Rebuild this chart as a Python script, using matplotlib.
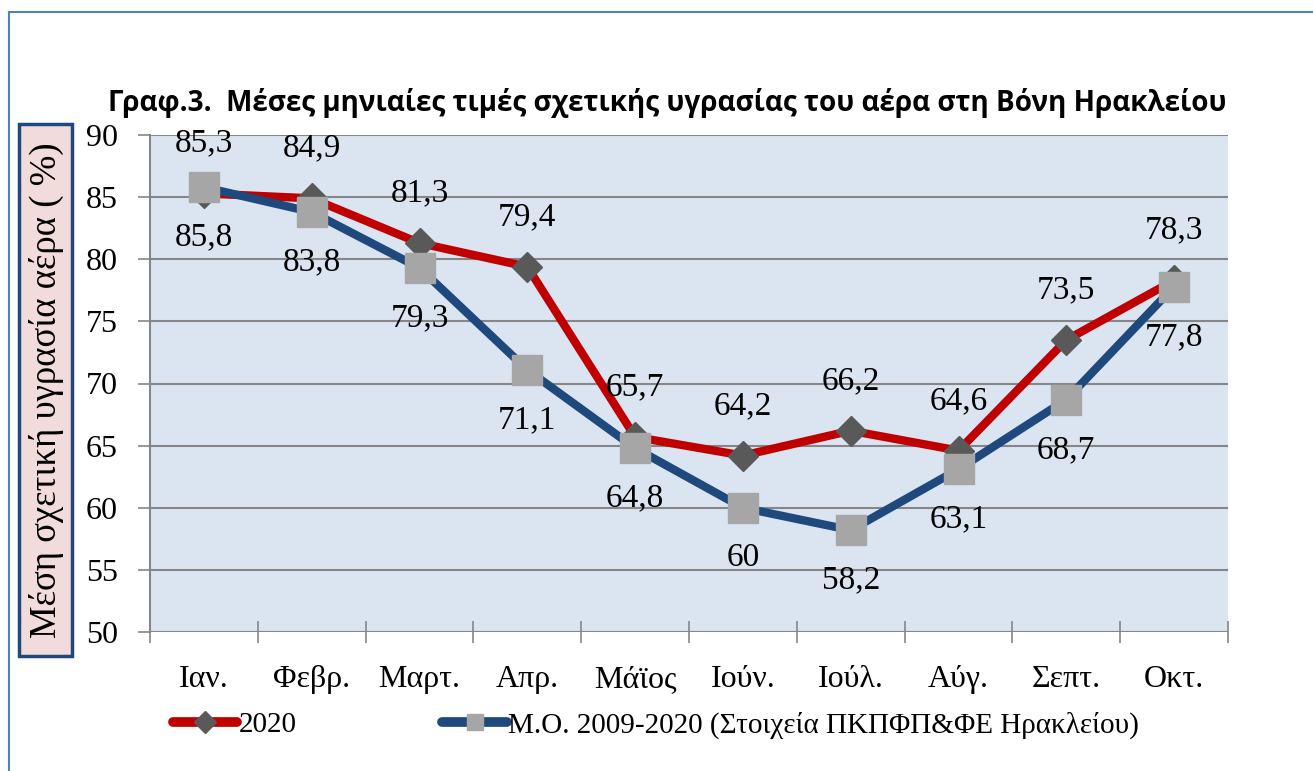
import matplotlib
matplotlib.use("Agg")
import matplotlib.pyplot as plt
from matplotlib.patches import Rectangle
from matplotlib.lines import Line2D

months = ["Ιαν.", "Φεβρ.", "Μαρτ.", "Απρ.", "Μάϊος", "Ιούν.", "Ιούλ.", "Αύγ.", "Σεπτ.", "Οκτ."]
hum_2020 = [85.3, 84.9, 81.3, 79.4, 65.7, 64.2, 66.2, 64.6, 73.5, 78.3]
hum_mean = [85.8, 83.8, 79.3, 71.1, 64.8, 60.0, 58.2, 63.1, 68.7, 77.8]
yticks = [50, 55, 60, 65, 70, 75, 80, 85, 90]
label_2020 = "2020"
label_mean = "Μ.Ο. 2009-2020 (Στοιχεία ΠΚΠΦΠ&ΦΕ Ηρακλείου)"
title = "Γραφ.3.  Μέσες μηνιαίες τιμές σχετικής υγρασίας του αέρα στη Βόνη Ηρακλείου"
ylabel = "Μέση σχετική υγρασία αέρα ( %)"

W, H = 1313, 771
fig = plt.figure(figsize=(W / 100, H / 100), dpi=100)
serif = ["Liberation Serif", "DejaVu Serif"]

def fx(px):
    return px / W

def fy(py):
    return 1 - py / H

ax = fig.add_axes([fx(150), fy(632), fx(1228) - fx(150), fy(135) - fy(632)])
ax.set_facecolor("#dbe5f1")
x = list(range(len(months)))

ax.plot(x, hum_2020, color="#c00000", lw=6, marker="D", ms=15,
        mfc="#595959", mec="#595959", zorder=3, label=label_2020,
        solid_joinstyle="round")
ax.plot(x, hum_mean, color="#1f497d", lw=6, marker="s", ms=21,
        mfc="#a6a6a6", mec="#a6a6a6", zorder=4, label=label_mean,
        solid_joinstyle="round")

def fmt(v):
    s = ("%.1f" % v).replace(".", ",")
    if s.endswith(",0"):
        s = s[:-2]
    return s

for xi, v in zip(x, hum_2020):
    ax.annotate(fmt(v), (xi, v), xytext=(0, 36), textcoords="offset points",
                ha="center", va="center", fontsize=24, family=serif, zorder=6,
                annotation_clip=False)
for xi, v in zip(x, hum_mean):
    ax.annotate(fmt(v), (xi, v), xytext=(0, -36), textcoords="offset points",
                ha="center", va="center", fontsize=24, family=serif, zorder=6,
                annotation_clip=False)

ax.set_xlim(-0.5, len(months) - 0.5)
ax.set_ylim(50, 90)
ax.set_yticks(yticks)
ax.set_yticklabels([str(t) for t in yticks], fontsize=23, family=serif)
ax.yaxis.grid(True, color="#868686", lw=1.5)
ax.set_axisbelow(True)
ax.tick_params(axis="y", direction="out", length=9, width=1.2, color="#868686", pad=14)

ax.set_xticks([i + 0.5 for i in range(-1, len(months))], minor=False)
ax.set_xticklabels([])
ax.set_xticks(x, minor=True)
ax.set_xticklabels(months, minor=True, fontsize=23, family=serif)
ax.tick_params(axis="x", which="major", direction="inout", length=16, width=1.2, color="#868686")
ax.tick_params(axis="x", which="minor", length=0, pad=24)

for s in ["top", "right", "bottom"]:
    ax.spines[s].set_visible(False)
ax.spines["left"].set_color("#868686")
ax.spines["left"].set_linewidth(1.5)

# Title fitted to width
t = fig.text(fx(667), fy(103), title, ha="center", va="center",
             fontsize=20, fontweight="bold", family=["Open Sans", "DejaVu Sans"])
fig.canvas.draw()
r = fig.canvas.get_renderer()
w = t.get_window_extent(r).width
t.set_fontsize(20 * 1120 / w)

# Y label box
fig.add_artist(Rectangle((fx(19), fy(656)), fx(72) - fx(19), fy(124) - fy(656),
                         transform=fig.transFigure, facecolor="#f2dcdb",
                         edgecolor="#1f497d", lw=2.5, zorder=1))
yl = fig.text(fx(46), fy(390), ylabel, rotation=90, ha="center", va="center",
              fontsize=26.5, family=serif, zorder=2)

# Legend
handles = [Line2D([], [], color="#c00000", lw=7, marker="D", ms=11,
                  mfc="#595959", mec="#595959", solid_capstyle="round"),
           Line2D([], [], color="#1f497d", lw=7, marker="s", ms=11,
                  mfc="#a6a6a6", mec="#a6a6a6", solid_capstyle="round")]
leg = fig.legend(handles, [label_2020, label_mean], loc="center left",
                 bbox_to_anchor=(fx(173), fy(725)), ncol=2, frameon=False,
                 borderpad=0, borderaxespad=0, handlelength=2.2,
                 handletextpad=0.05, columnspacing=5.0,
                 prop={"family": serif, "size": 21})

# Outer frame lines
fig.add_artist(Line2D([fx(9), 1], [fy(12), fy(12)], transform=fig.transFigure,
                      color="#4f81bd", lw=1.5))
fig.add_artist(Line2D([fx(9), fx(9)], [fy(12), 0], transform=fig.transFigure,
                      color="#4f81bd", lw=1.5))

fig.savefig("out.png", dpi=100)
